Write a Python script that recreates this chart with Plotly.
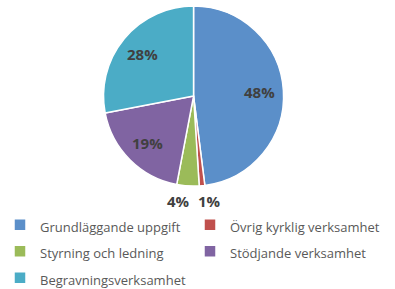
import math
import plotly.graph_objects as go

labels = ["Grundläggande uppgift", "Övrig kyrklig verksamhet", "Styrning och ledning",
          "Stödjande verksamhet", "Begravningsverksamhet"]
values = [48, 1, 4, 19, 28]
colors = ["#5B8FC9", "#C0504D", "#9BBB59", "#8064A2", "#4BACC6"]
# label placement: "in" = on the slice, "right"/"left" = below the pie
label_place = ["in", "left", "right", "in", "in"]

W, H = 395, 289
dom_x = [0.26, 0.72]
dom_y = [0.356, 0.979]

legend_labels = [f'<span style="font-size:13px">{l}</span>' for l in labels]

fig = go.Figure(go.Pie(
    labels=legend_labels, values=values, sort=False, direction="clockwise", rotation=0,
    marker=dict(colors=colors, line=dict(color="white", width=1.5)),
    textinfo="none", hoverinfo="label+percent",
    domain=dict(x=dom_x, y=dom_y),
    automargin=False,
))

# percentage labels derived from the values
total = sum(values)
cx = (dom_x[0] + dom_x[1]) / 2
cy = (dom_y[0] + dom_y[1]) / 2
R = min((dom_x[1] - dom_x[0]) * W, (dom_y[1] - dom_y[0]) * H) / 2
cum = 0
for v, place in zip(values, label_place):
    mid = (cum + v / 2) / total * 2 * math.pi
    cum += v
    txt = f"<b>{round(100 * v / total)}%</b>"
    font = dict(family="Open Sans", size=15, color="#404040")
    if place == "in":
        r = 0.73 * R
        fig.add_annotation(x=cx + r * math.sin(mid) / W, y=cy + r * math.cos(mid) / H,
                           xref="paper", yref="paper", xanchor="center", yanchor="middle",
                           text=txt, showarrow=False, font=font)
    else:
        fig.add_annotation(x=cx, y=dom_y[0] - 0.01, xref="paper", yref="paper",
                           xanchor="left" if place == "left" else "right", yanchor="top",
                           xshift=2 if place == "left" else -2,
                           text=txt, showarrow=False, font=font)

fig.update_layout(
    width=W, height=H, margin=dict(l=0, r=0, t=0, b=0, autoexpand=False),
    paper_bgcolor="white", plot_bgcolor="white",
    legend=dict(orientation="h", x=0, y=0.285, xanchor="left", yanchor="top",
                entrywidth=145, entrywidthmode="pixels",
                font=dict(family="Open Sans", size=18, color="#595959"),
                tracegroupgap=0),
)
fig.write_html("out.html")
